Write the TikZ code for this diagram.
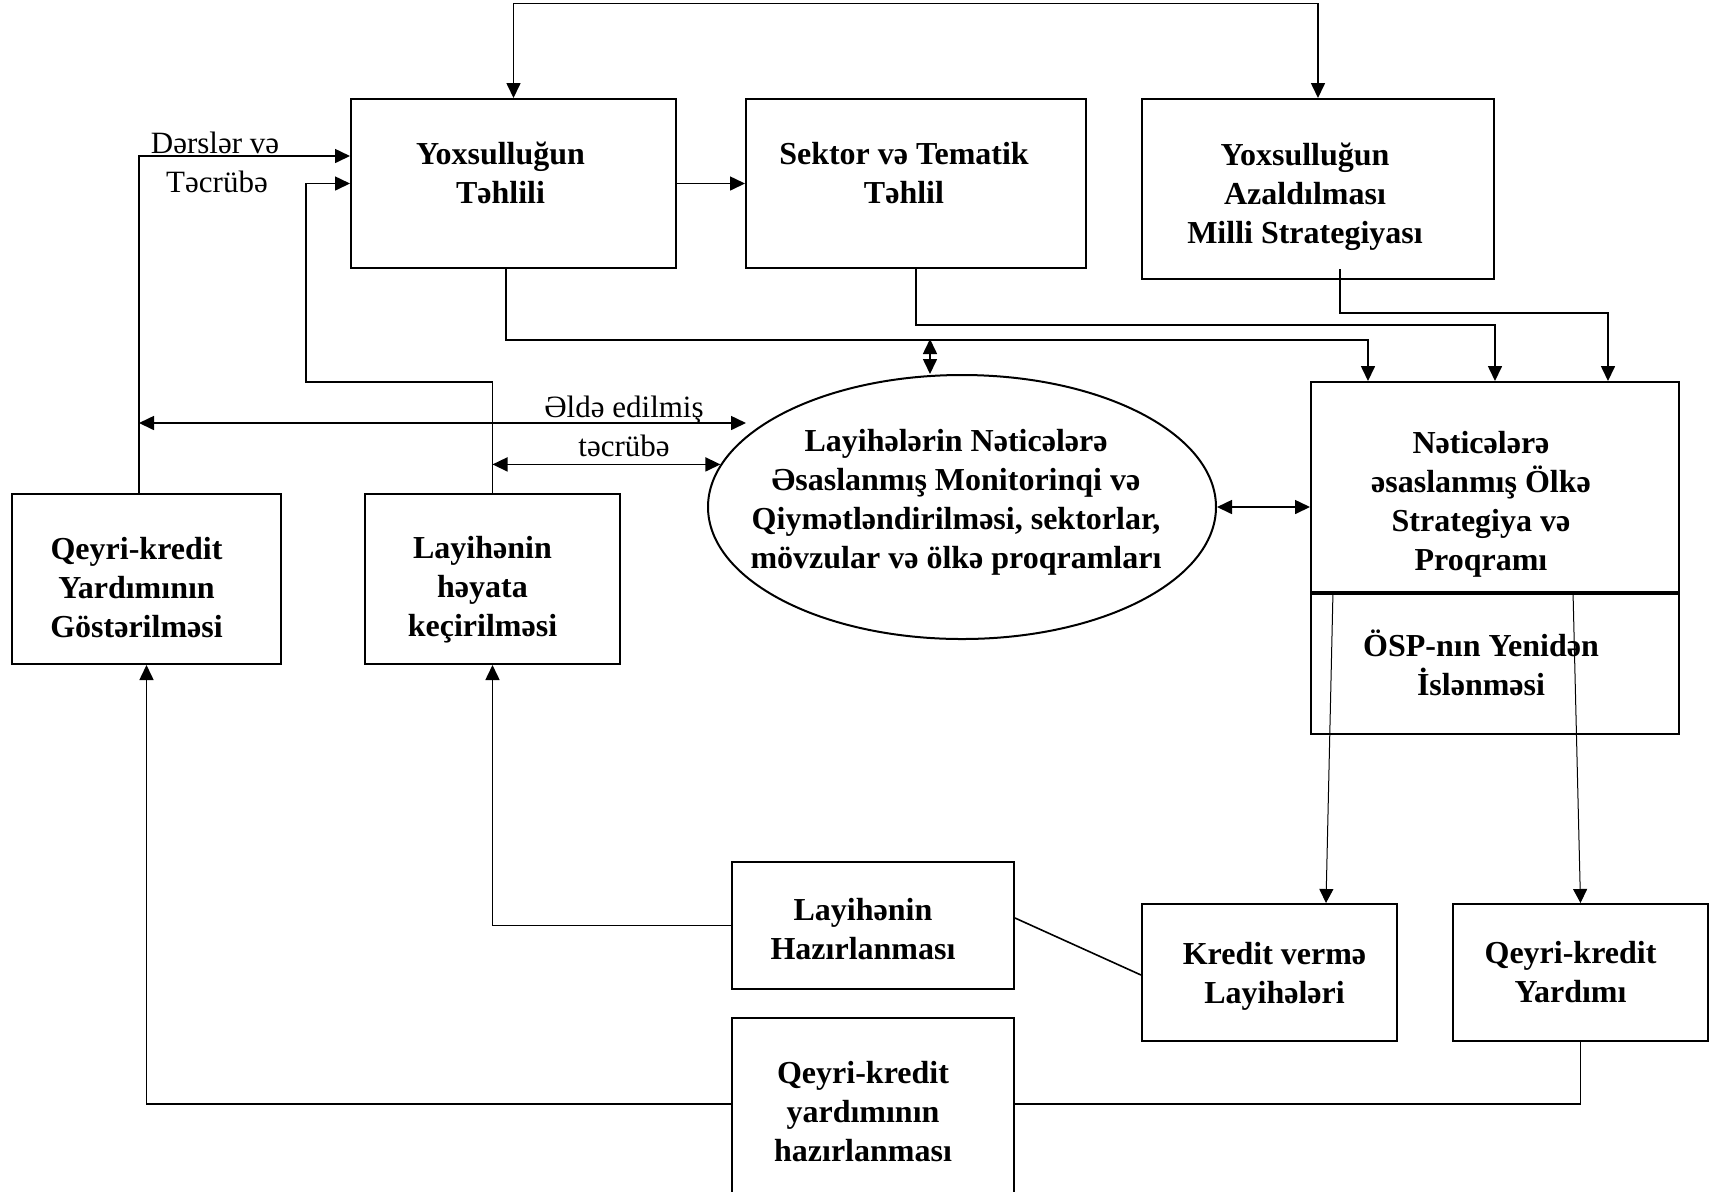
\documentclass[tikz,border=0pt]{standalone}
\usepackage{fontspec}
\setmainfont{Liberation Serif}
\usetikzlibrary{shapes,arrows.meta,positioning}
\tikzstyle{block} = [draw,line width=1pt,rectangle,inner sep=0]
\tikzstyle{oval} = [draw,line width=1pt,ellipse,inner sep=0,minimum width=254pt,minimum height=132pt]
\tikzstyle{boldtext} = [inner sep=0,align=center,font=\fontsize{16}{19.5}\selectfont\bfseries]
\tikzstyle{note} = [inner sep=0,font=\fontsize{15.5}{19}\selectfont]
\tikzstyle{link} = [-,line width=0.8pt]
\tikzstyle{flow} = [-{Triangle[length=7.5pt,width=7pt]},line width=0.8pt]
\tikzstyle{both} = [{Triangle[length=7.5pt,width=7pt]}-{Triangle[length=7.5pt,width=7pt]},line width=0.8pt]
\tikzstyle{thinflow} = [-{Triangle[length=7pt,width=7pt]},line width=0.5pt]
\def \bh {84.5pt}

\begin{document}
\begin{tikzpicture}[x=0.5pt,y=-0.5pt]
  \useasboundingbox (0,0) rectangle (1715,1191);
  \node[block,minimum width=162.5pt,minimum height=\bh] (yt) at (513.5,183.5) {};
  \node[block,minimum width=170pt,minimum height=\bh] (st) at (916,183.5) {};
  \node[block,minimum width=176pt,minimum height=90pt] (ya) at (1318,189) {};
  \node[block,minimum width=184pt,minimum height=105pt] (ns) at (1495,487) {};
  \node[block,minimum width=184pt,minimum height=71pt] (osp) at (1495,663) {};
  \node[oval] (el) at (962,507) {};
  \node[block,minimum width=134.5pt,minimum height=85pt] (qk) at (146.5,579) {};
  \node[block,minimum width=127.5pt,minimum height=85pt] (lh) at (492.5,579) {};
  \node[block,minimum width=141pt,minimum height=63.5pt] (lhz) at (873,925.5) {};
  \node[block,minimum width=141pt,minimum height=94pt] (qh) at (873,1112) {};
  \node[block,minimum width=127.5pt,minimum height=68.5pt] (kv) at (1269.5,972.5) {};
  \node[block,minimum width=127.5pt,minimum height=68.5pt] (qy) at (1580.5,972.5) {};
  \draw[line width=2pt] (ns.south west) -- (ns.south east);

  \node[boldtext] (ytx) at ([xshift=-6.5pt,yshift=5.5pt]yt.center) {Yoxsulluğun\\Təhlili};
  \node[boldtext] (stx) at ([xshift=-6pt,yshift=5pt]st.center) {Sektor və Tematik\\Təhlil};
  \node[boldtext] (yax) at ([xshift=-6.5pt,yshift=-4pt]ya.center) {Yoxsulluğun\\Azaldılması\\Milli Strategiyası};
  \node[boldtext] (nsx) at ([xshift=-7pt,yshift=-8.5pt]ns.center) {Nəticələrə\\əsaslanmış Ölkə\\Strategiya və\\Proqramı};
  \node[boldtext] (ospx) at ([xshift=-7pt]osp.center) {ÖSP-nın Yenidən\\İslənməsi};
  \node[boldtext] (elx) at ([xshift=-3pt,yshift=2.5pt]el.center) {Layihələrin Nəticələrə\\Əsaslanmış Monitorinqi və\\Qiymətləndirilməsi, sektorlar,\\mövzular və ölkə proqramları};
  \node[boldtext] (qkx) at ([xshift=-5pt,yshift=-4.5pt]qk.center) {Qeyri-kredit\\Yardımının\\Göstərilməsi};
  \node[boldtext] (lhx) at ([xshift=-5pt,yshift=-5.5pt]lh.center) {Layihənin\\həyata\\keçirilməsi};
  \node[boldtext] (lhzx) at ([xshift=-5pt,yshift=-2pt]lhz.center) {Layihənin\\Hazırlanması};
  \node[boldtext] (qhx) at ([xshift=-5pt]qh.center) {Qeyri-kredit\\yardımının\\hazırlanması};
  \node[boldtext] (kvx) at ([xshift=2.5pt,yshift=-2pt]kv.center) {Kredit vermə\\Layihələri};
  \node[boldtext] (qyx) at ([xshift=-5pt]qy.center) {Qeyri-kredit\\Yardımı};

  \node[note] (lesson) at (215,143) {Dərslər və};
  \node[note] (practice) at (217,182) {Təcrübə};
  \node[note] (gained) at (624,410) {Əldə edilmiş};
  \node[note] (exp) at (624,446) {təcrübə};

  \coordinate (lhbend) at (306,382);
  \coordinate (mid) at (930,339);
  \coordinate (gl) at (139,423);
  \coordinate (gr) at (746,423);

  \draw[both] (yt.north) -- ++(0,-94.5) -| (ya.north);
  \draw[flow] (yt) -- (st);
  \draw[flow] ([xshift=-3.75pt]qk.north) |- ([yshift=13.75pt]yt.west);
  \draw[flow] (lh.north) |- (lhbend) |- (yt.west);
  \draw[flow] ([xshift=-3.75pt]yt.south) -- ++(0,71) -| ([xshift=-63.5pt]ns.north);
  \draw[flow] (st.south) -- ++(0,56) -| (ns.north);
  \draw[flow] ([xshift=11pt,yshift=5.5pt]ya.south) -- ++(0,44) -| ([xshift=56.5pt]ns.north);
  \draw[both] (mid) -- (mid |- el.north);
  \draw[both] (gl) -- (gr);
  \draw[both] (lh.north |- el.170.6) -- (el.170.6);
  \draw[both] (el.east) -- (el.east -| ns.west);
  \draw[thinflow] ([xshift=-81pt]osp.north) -- ([xshift=28.25pt]kv.north);
  \draw[thinflow] ([xshift=39pt]osp.north) -- (qy.north);
  \draw[flow] (lhz.west) -| (lh.south);
  \draw[link] ([yshift=3.75pt]lhz.east) -- ([yshift=-1.25pt]kv.west);
  \draw[flow] ([yshift=4pt]qh.west) -| (qk.south);
  \draw[link] (qy.south) |- ([yshift=4pt]qh.east);
\end{tikzpicture}
\end{document}
